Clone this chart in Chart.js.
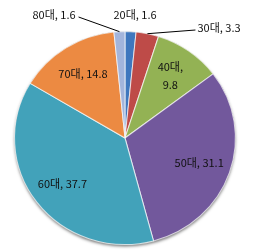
<!DOCTYPE html>
<html>
<head>
<meta charset="utf-8">
<script src="https://cdn.jsdelivr.net/npm/chart.js@4"></script>
<style>
  html, body { margin: 0; padding: 0; background: #fff; }
  #wrap { width: 255px; height: 250px; position: relative; }
</style>
</head>
<body>
<div id="wrap"><canvas id="pie"></canvas></div>
<script>
// age groups and their share (%)
const categories = ['20대', '30대', '40대', '50대', '60대', '70대', '80대'];
const values = [1.6, 3.3, 9.8, 31.1, 37.7, 14.8, 1.6];
const colors = ['#3F77BE', '#BE4B48', '#93B254', '#72589C', '#42A2BA', '#EC8A42', '#A3B5DC'];

// text spot for the small slices that get their label outside (offset from centre)
const outsideLabels = {
    '20대': { dx: 10, dy: -123, line: false },
    '30대': { dx: 94, dy: -110, line: true },
    '80대': { dx: -71, dy: -123, line: true }
};

const FONT = '11px "Noto Sans CJK KR", "Noto Sans", sans-serif';
// the original pie is a touch wider than tall
const X_STRETCH = 1.037;

// soft shadow under the pie + horizontal stretch
const shadowPlugin = {
    id: 'pieShadow',
    beforeDatasetsDraw(chart) {
        const arc = chart.getDatasetMeta(0).data[0];
        if (!arc) return;
        const ctx = chart.ctx;
        ctx.save();
        ctx.translate(arc.x, arc.y);
        ctx.scale(X_STRETCH, 1);
        ctx.translate(-arc.x, -arc.y);
        ctx.save();
        ctx.shadowColor = 'rgba(0,0,0,0.5)';
        ctx.shadowBlur = 3;
        ctx.shadowOffsetY = 2;
        ctx.beginPath();
        ctx.arc(arc.x, arc.y, arc.outerRadius, 0, Math.PI * 2);
        ctx.fillStyle = '#777';
        ctx.fill();
        ctx.restore();
    },
    afterDatasetsDraw(chart) {
        chart.ctx.restore();
    }
};

// data labels "NN대, v"
const labelPlugin = {
    id: 'sliceLabels',
    afterDatasetsDraw(chart) {
        const ctx = chart.ctx;
        const meta = chart.getDatasetMeta(0);
        ctx.save();
        ctx.font = FONT;
        ctx.fillStyle = '#111';
        ctx.textBaseline = 'middle';
        meta.data.forEach((arc, i) => {
            const cat = categories[i];
            const v = values[i].toFixed(1);
            const p = arc.getProps(['x', 'y', 'startAngle', 'endAngle', 'outerRadius'], true);
            const mid = (p.startAngle + p.endAngle) / 2;
            const out = outsideLabels[cat];
            if (out) {
                const text = cat + ', ' + v;
                const tx = p.x + out.dx, ty = p.y + out.dy;
                const w = ctx.measureText(text).width;
                ctx.textAlign = 'center';
                ctx.fillText(text, tx, ty);
                if (out.line) {
                    const ex = p.x + Math.cos(mid) * p.outerRadius * X_STRETCH;
                    const ey = p.y + Math.sin(mid) * p.outerRadius;
                    const sx = out.dx > 0 ? tx - w / 2 - 2 : tx + w / 2 + 3;
                    ctx.beginPath();
                    ctx.moveTo(ex, ey);
                    ctx.lineTo(sx, ty + 2);
                    ctx.strokeStyle = '#000';
                    ctx.lineWidth = 1;
                    ctx.stroke();
                }
                return;
            }
            const r = p.outerRadius * 0.71;
            const lx = p.x + Math.cos(mid) * r * X_STRETCH;
            const ly = p.y + Math.sin(mid) * r;
            ctx.textAlign = 'center';
            if (values[i] < 12) {
                ctx.fillText(cat + ',', lx, ly - 9);
                ctx.fillText(v, lx, ly + 9);
            } else {
                ctx.fillText(cat + ', ' + v, lx, ly);
            }
        });
        ctx.restore();
    }
};

new Chart(document.getElementById('pie'), {
    type: 'pie',
    data: {
        labels: categories,
        datasets: [{
            data: values,
            backgroundColor: colors,
            borderColor: 'rgba(255,255,255,0.7)',
            borderWidth: 1
        }]
    },
    options: {
        responsive: true,
        maintainAspectRatio: false,
        animation: false,
        layout: { padding: { left: 18, right: 23, top: 31, bottom: 5 } },
        plugins: {
            legend: { display: false },
            tooltip: { enabled: false }
        }
    },
    plugins: [shadowPlugin, labelPlugin]
});
</script>
</body>
</html>
